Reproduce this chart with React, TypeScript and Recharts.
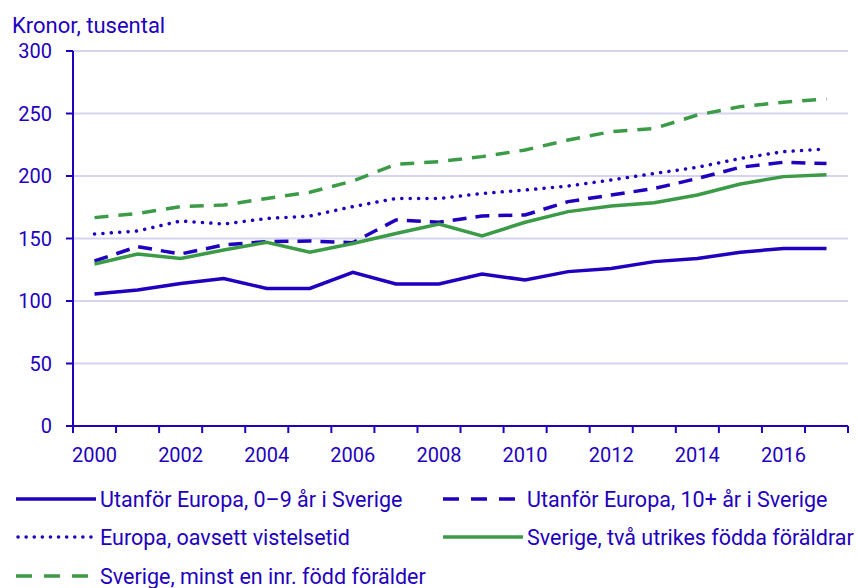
import { LineChart, Line, XAxis, YAxis, CartesianGrid } from "recharts";

const years = ["2000", "2001", "2002", "2003", "2004", "2005", "2006", "2007", "2008", "2009", "2010", "2011", "2012", "2013", "2014", "2015", "2016", "2017"];
const utanfor09 = [105.6, 108.8, 114, 118, 110, 110, 123, 113.6, 113.6, 121.6, 116.8, 123.5, 126, 131.5, 134, 139, 142, 142];
const utanfor10 = [132, 143.5, 137.6, 144.8, 147.5, 148, 146.7, 164.8, 163, 168, 168.8, 179.5, 184.8, 190, 198, 207, 211, 210];
const europa = [153.6, 156, 164, 161.6, 166, 168, 175.5, 182, 182, 186, 188.8, 192, 196.8, 202, 207, 214, 219.5, 221.6];
const sverigeUtr = [129.6, 137.6, 134, 140.8, 147, 139, 146, 154, 161.6, 152, 163, 171.5, 176, 178.6, 184.8, 193.6, 199.5, 201];
const sverigeInr = [166.7, 170, 175.5, 176.8, 182, 187, 196, 209.3, 211.5, 215.5, 220.8, 228.8, 235.5, 238, 248.8, 255.5, 259, 261.6];
const yTicks = [0, 50, 100, 150, 200, 250, 300];

const BLUE = "#1E00BE";
const GREEN = "#3C9B46";
const FONT = "Roboto, sans-serif";

const data = years.map((year, i) => ({
  year,
  utanfor09: utanfor09[i],
  utanfor10: utanfor10[i],
  europa: europa[i],
  sverigeUtr: sverigeUtr[i],
  sverigeInr: sverigeInr[i],
}));

const series = [
  { key: "utanfor09", name: "Utanför Europa, 0–9 år i Sverige", color: BLUE, dash: undefined, cap: "butt" },
  { key: "utanfor10", name: "Utanför Europa, 10+ år i Sverige", color: BLUE, dash: "14 9", cap: "butt" },
  { key: "europa", name: "Europa, oavsett vistelsetid", color: BLUE, dash: "0.1 8.3", cap: "round" },
  { key: "sverigeUtr", name: "Sverige, två utrikes födda föräldrar", color: GREEN, dash: undefined, cap: "butt" },
  { key: "sverigeInr", name: "Sverige, minst en inr. född förälder", color: GREEN, dash: "14 10", cap: "butt" },
];

// legend slots: two columns, three rows
const legendPos = [
  { left: 16, top: 499 },
  { left: 443, top: 499 },
  { left: 16, top: 537 },
  { left: 443, top: 537 },
  { left: 16, top: 576 },
];

const HALF = 21.5;

function XTick(props: any) {
  const { x, y, payload } = props;
  const axisY = y - 22;
  const isLast = payload.value === years[years.length - 1];
  const even = Number(payload.value) % 2 === 0;
  return (
    <g>
      <line x1={x - HALF} x2={x - HALF} y1={axisY} y2={axisY + 7} stroke={BLUE} strokeWidth={2} />
      {isLast && <line x1={x + HALF} x2={x + HALF} y1={axisY} y2={axisY + 7} stroke={BLUE} strokeWidth={2} />}
      {even && (
        <text x={x} y={y} dy="0.71em" textAnchor="middle" fill={BLUE} fontSize={20} fontFamily={FONT}>
          {payload.value}
        </text>
      )}
    </g>
  );
}

export default function App() {
  return (
    <div style={{ position: "absolute", left: 0, top: 0, width: 858, height: 588, background: "#fff", fontFamily: FONT }}>
      <div style={{ position: "absolute", left: 12, top: 13, fontSize: 22, color: BLUE, lineHeight: "normal" }}>
        Kronor, tusental
      </div>
      <LineChart width={858} height={480} data={data} margin={{ top: 51, right: 10, bottom: 14, left: 0 }}>
        <CartesianGrid vertical={false} stroke="#D4D4F2" strokeWidth={2} />
        <XAxis
          dataKey="year"
          interval={0}
          padding={{ left: HALF, right: HALF }}
          axisLine={{ stroke: BLUE, strokeWidth: 2 }}
          tickLine={false}
          tickSize={7}
          tickMargin={15}
          height={40}
          tick={<XTick />}
        />
        <YAxis
          domain={[0, 300]}
          ticks={yTicks}
          width={73}
          axisLine={{ stroke: BLUE, strokeWidth: 2 }}
          tickLine={{ stroke: BLUE, strokeWidth: 2 }}
          tickSize={7}
          tickMargin={14}
          tick={{ fill: BLUE, fontSize: 20, fontFamily: FONT }}
        />
        {series.map((s) => (
          <Line
            key={s.key}
            dataKey={s.key}
            name={s.name}
            type="linear"
            stroke={s.color}
            strokeWidth={3.5}
            strokeDasharray={s.dash}
            strokeLinecap={s.cap as any}
            dot={false}
            activeDot={false}
            isAnimationActive={false}
          />
        ))}
      </LineChart>
      {series.map((s, i) => (
        <div
          key={s.key}
          style={{
            position: "absolute",
            left: legendPos[i].left,
            top: legendPos[i].top - 15,
            height: 30,
            display: "flex",
            alignItems: "center",
            whiteSpace: "nowrap",
            fontSize: 21.5,
            color: BLUE,
          }}
        >
          <svg width={80} height={10} style={{ marginRight: 4 }}>
            <line
              x1={s.cap === "round" ? 2 : 0}
              x2={80}
              y1={5}
              y2={5}
              stroke={s.color}
              strokeWidth={3.5}
              strokeDasharray={s.dash ? (s.cap === "round" ? "0.1 8" : "16 12") : undefined}
              strokeLinecap={s.cap as any}
            />
          </svg>
          {s.name}
        </div>
      ))}
    </div>
  );
}
